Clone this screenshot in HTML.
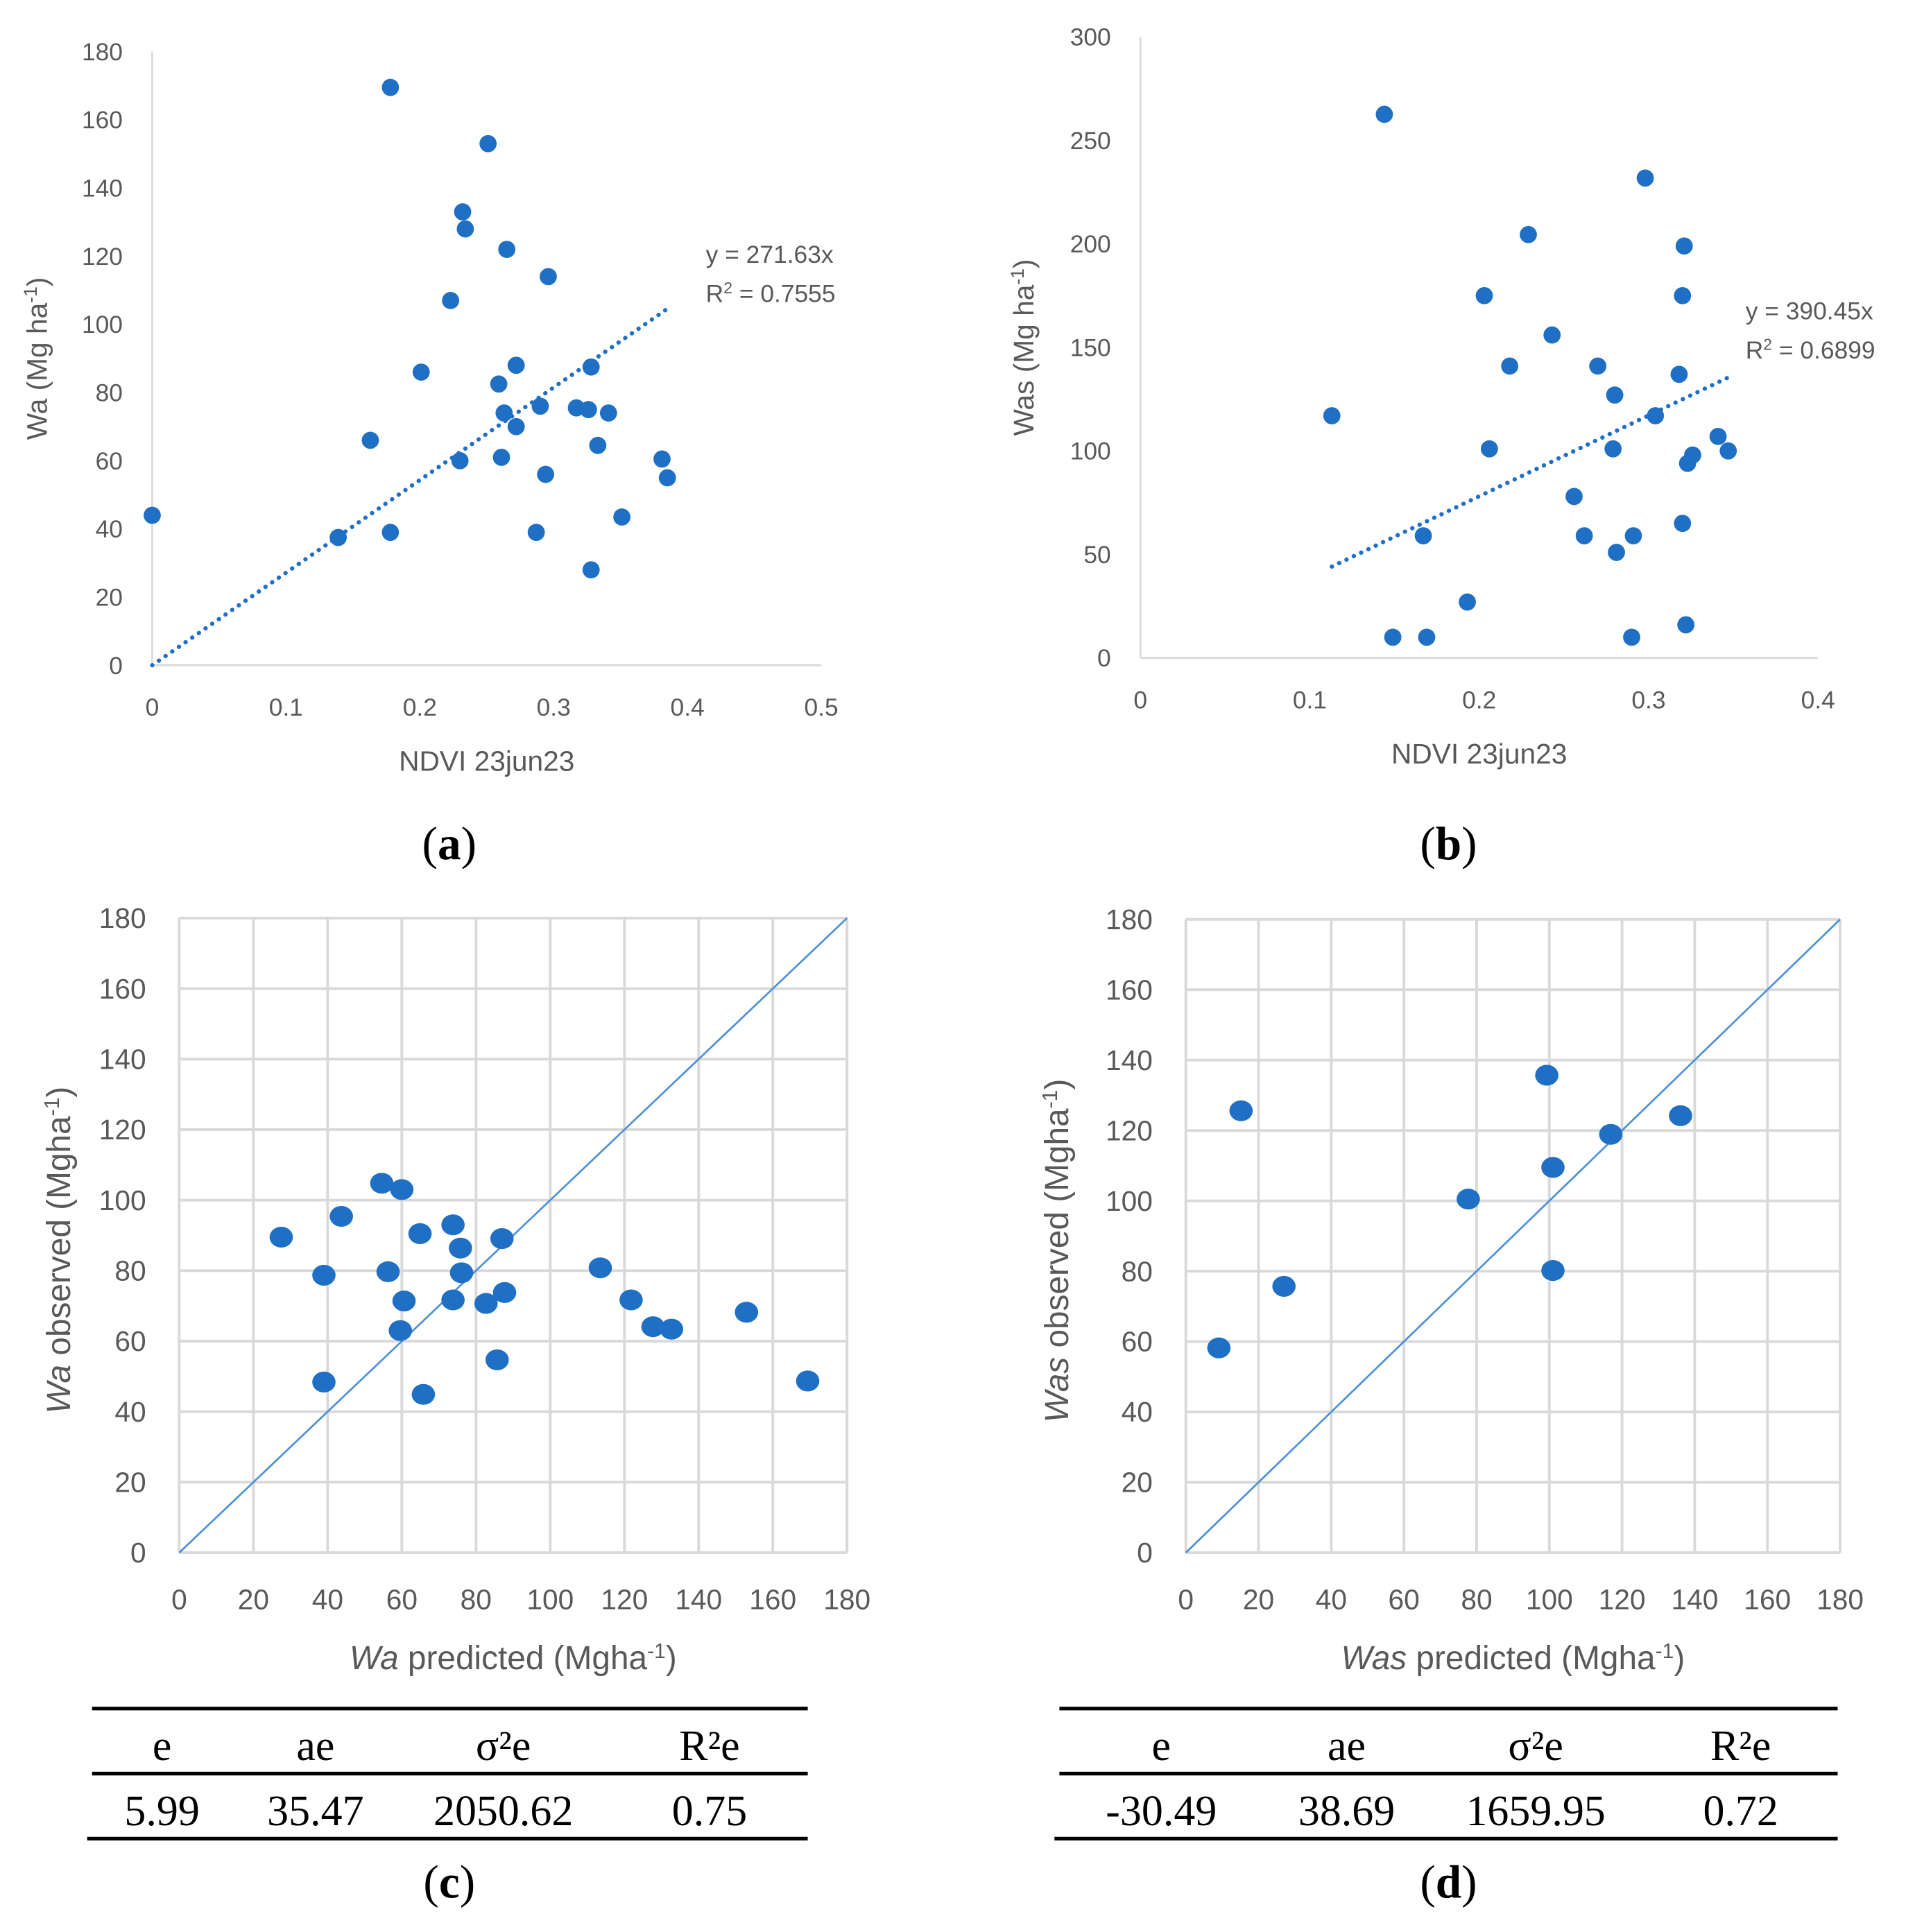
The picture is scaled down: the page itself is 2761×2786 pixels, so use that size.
<!DOCTYPE html>
<html><head><meta charset="utf-8">
<style>
html,body{margin:0;padding:0;background:#fff;}
svg{display:block;}
.tk{font-family:"Liberation Sans",sans-serif;fill:#595959;}
.sf{font-family:"Liberation Serif",serif;fill:#000;}
</style></head>
<body>
<svg id="fig" width="2761" height="2786" viewBox="0 0 1560 1574" xmlns="http://www.w3.org/2000/svg">
<g id="root"></g>
</svg>
<script>
// ---------- data ----------
const aNdvi = [0.178,0.251,0.232,0.234,0.265,0.296,0.223,0.201,0.272,0.328,0.259,0.263,0.290,0.317,0.326,0.341,0.272,0.163,0.333,0.230,0.261,0.381,0.294,0.385,0.0,0.351,0.139,0.178,0.287,0.328];
const aWa   = [169.5,153,133,128,122,114,107,86,88,87.5,82.5,74,76,75.5,75,74,70,66,64.5,60,61,60.5,56,55,44,43.5,37.5,39,39,28];
const aSlope = 271.63;
const aXTicks = [0,0.1,0.2,0.3,0.4,0.5];
const aYTicks = [0,20,40,60,80,100,120,140,160,180];

const bNdvi = [0.144,0.298,0.229,0.321,0.203,0.320,0.243,0.218,0.270,0.318,0.280,0.113,0.304,0.341,0.206,0.279,0.347,0.326,0.323,0.256,0.167,0.262,0.291,0.281,0.320,0.193,0.149,0.169,0.290,0.322];
const bWas  = [262.6,231.8,204.5,199,175,175,156,141,141,137,127,117,117,107,101,101,100,98,94,78,59,59,59,51,65,27,10,10,10,16];
const bSlope = 390.45;
const bXTicks = [0,0.1,0.2,0.3,0.4];
const bYTicks = [0,50,100,150,200,250,300];

const cPred = [27.5,39,39,43.7,54.6,60,56.3,60.6,59.6,64.9,65.8,73.8,75.8,76.1,73.8,82.7,87,87.7,85.7,113.5,121.8,127.7,132.7,152.9,169.4];
const cObs  = [89.5,78.7,48.4,95.4,104.8,103,79.7,71.4,63,90.5,44.9,93,86.4,79.4,71.7,70.7,89.1,73.8,54.7,80.8,71.7,64.1,63.4,68.2,48.7];
const dPred = [9.1,15.2,27,77.7,99.3,101,101,116.9,136.1];
const dObs  = [58.2,125.6,75.7,100.5,135.7,109.5,80.2,118.9,124.2];
const gridTicks = [0,20,40,60,80,100,120,140,160,180];

const cTable = [["e","ae","σ²e","R²e"],["5.99","35.47","2050.62","0.75"]];
const dTable = [["e","ae","σ²e","R²e"],["-30.49","38.69","1659.95","0.72"]];

// ---------- helpers ----------
const NS="http://www.w3.org/2000/svg";
const root=document.getElementById('root');
function mk(tag,attrs,parent,txt){const e=document.createElementNS(NS,tag);for(const k in attrs)e.setAttribute(k,attrs[k]);if(txt!==undefined)e.textContent=txt;(parent||root).appendChild(e);return e;}
function scale(d0,d1,r0,r1){return v=>r0+(v-d0)/(d1-d0)*(r1-r0);}
const BLUE="#1f6fc5";

// ---------- chart a / b (NDVI scatter) ----------
function ndviChart(o){
  const g=mk('g',{});
  
  
  const sx=scale(o.xd[0],o.xd[1],o.x0,o.x1), sy=scale(o.yd[0],o.yd[1],o.y0,o.y1);
  let ax=mk('line',{x1:o.x0,y1:o.y0,x2:o.x0,y2:o.y1,stroke:'#d9d9d9','stroke-width':1.5},g);
  
  ax=mk('line',{x1:o.x0,y1:o.y0,x2:o.x1,y2:o.y0,stroke:'#d9d9d9','stroke-width':1.5},g);
  
  o.yt.forEach(v=>{const t=mk('text',{x:o.x0-24,y:sy(v)+7,'text-anchor':'end','font-size':20,class:'tk'},g,String(v));
    });
  o.xt.forEach(v=>{const t=mk('text',{x:sx(v),y:o.y0+41,'text-anchor':'middle','font-size':20,class:'tk'},g,String(v));
    });
  let t=mk('text',{x:(o.x0+o.x1)/2,y:o.y0+86,'text-anchor':'middle','font-size':23,class:'tk'},g,'NDVI 23jun23');
  
  t=mk('text',{transform:`translate(${o.ytx},${(o.y0+o.y1)/2}) rotate(-90)`,'text-anchor':'middle','font-size':23,class:'tk'},g);
  
  t.appendChild(document.createTextNode(o.ylab+' (Mg ha'));
  mk('tspan',{dy:-8,'font-size':15},t,'-1');
  mk('tspan',{dy:8},t,')');
  const tl=mk('line',{x1:sx(o.tr[0]),y1:sy(o.slope*o.tr[0]),x2:sx(o.tr[1]),y2:sy(o.slope*o.tr[1]),stroke:BLUE,'stroke-width':3.5,'stroke-dasharray':'0.1 6.5','stroke-linecap':'round'},g);
  
  o.xs.forEach((x,i)=>{const c=mk('circle',{cx:sx(x),cy:sy(o.ys[i]),r:7,fill:BLUE},g);
    });
  t=mk('text',{x:o.eqx,y:o.eqy,'font-size':20,class:'tk'},g,'y = '+o.slope.toFixed(2)+'x');
  
  t=mk('text',{x:o.eqx,y:o.eqy+32,'font-size':20,class:'tk'},g);
  
  t.appendChild(document.createTextNode('R'));mk('tspan',{dy:-7,'font-size':13},t,'2');mk('tspan',{dy:7},t,' = '+o.r2);
  t=mk('text',{x:o.capx,y:700,'text-anchor':'middle','font-size':38,class:'sf'},g);
  
  t.appendChild(document.createTextNode('('));mk('tspan',{'font-weight':'bold'},t,o.cap);t.appendChild(document.createTextNode(')'));
}
ndviChart({name:'chart-a',x0:124,x1:669,y0:542,y1:42,xd:[0,0.5],yd:[0,180],xt:aXTicks,yt:aYTicks,xs:aNdvi,ys:aWa,slope:aSlope,tr:[0,0.385],ylab:'Wa',ytx:38,eqx:575,eqy:214,r2:'0.7555',cap:'a',capx:366});
ndviChart({name:'chart-b',x0:929,x1:1481,y0:536,y1:30,xd:[0,0.4],yd:[0,300],xt:bXTicks,yt:bYTicks,xs:bNdvi,ys:bWas,slope:bSlope,tr:[0.113,0.350],ylab:'Was',ytx:842,eqx:1422,eqy:260,r2:'0.6899',cap:'b',capx:1180});

// ---------- chart c / d (observed vs predicted) ----------
function ovpChart(o){
  const g=mk('g',{});
  
  
  const sx=scale(0,180,o.x0,o.x1), sy=scale(0,180,o.y0,o.y1);
  gridTicks.forEach(v=>{
    let l=mk('line',{x1:sx(v),y1:o.y0,x2:sx(v),y2:o.y1,stroke:'#d9d9d9','stroke-width':2.2},g);
    
    l=mk('line',{x1:o.x0,y1:sy(v),x2:o.x1,y2:sy(v),stroke:'#d9d9d9','stroke-width':2.2},g);
    
    let t=mk('text',{x:o.x0-27,y:sy(v)+8,'text-anchor':'end','font-size':23,class:'tk'},g,String(v));
    
    t=mk('text',{x:sx(v),y:o.y0+46,'text-anchor':'middle','font-size':23,class:'tk'},g,String(v));
    
  });
  const d=mk('line',{x1:sx(0),y1:sy(0),x2:sx(180),y2:sy(180),stroke:'#4a8fd8','stroke-width':1.5},g);
  
  o.xs.forEach((x,i)=>{const c=mk('ellipse',{cx:sx(x),cy:sy(o.ys[i]),rx:9.5,ry:8.5,fill:BLUE},g);
    });
  let t=mk('text',{x:(o.x0+o.x1)/2,y:o.y0+95,'text-anchor':'middle','font-size':27,class:'tk'},g);
  
  mk('tspan',{'font-style':'italic'},t,o.lab);t.appendChild(document.createTextNode(' predicted (Mgha'));
  mk('tspan',{dy:-9,'font-size':17},t,'-1');mk('tspan',{dy:9},t,')');
  t=mk('text',{transform:`translate(${o.ytx},${(o.y0+o.y1)/2+12}) rotate(-90)`,'text-anchor':'middle','font-size':27,class:'tk'},g);
  
  mk('tspan',{'font-style':'italic'},t,o.lab);t.appendChild(document.createTextNode(' observed (Mgha'));
  mk('tspan',{dy:-9,'font-size':17},t,'-1');mk('tspan',{dy:9},t,')');
  // table
  const tb=mk('g',{},g);
  
  [[o.t0,1392],[o.t0,1445],[o.t0-4,1498]].forEach(([x0,y])=>{const l=mk('line',{x1:x0,y1:y,x2:o.t1,y2:y,stroke:'#000','stroke-width':3},tb);
    });
  o.tab.forEach((row,r)=>row.forEach((s,c)=>{const e=mk('text',{x:o.cols[c],y:r?1487:1434,'text-anchor':'middle','font-size':35,class:'sf'},tb,s);
    }));
  t=mk('text',{x:o.capx,y:1546,'text-anchor':'middle','font-size':38,class:'sf'},g);
  
  t.appendChild(document.createTextNode('('));mk('tspan',{'font-weight':'bold'},t,o.cap);t.appendChild(document.createTextNode(')'));
}
ovpChart({name:'chart-c',x0:146,x1:690,y0:1265,y1:748,xs:cPred,ys:cObs,lab:'Wa',ytx:57,t0:75,t1:658,cols:[132,257,410,578],tab:cTable,cap:'c',capx:366});
ovpChart({name:'chart-d',x0:966,x1:1499,y0:1265,y1:749,xs:dPred,ys:dObs,lab:'Was',ytx:870,t0:863,t1:1497,cols:[946,1097,1251,1418],tab:dTable,cap:'d',capx:1180});
</script>
</body></html>
